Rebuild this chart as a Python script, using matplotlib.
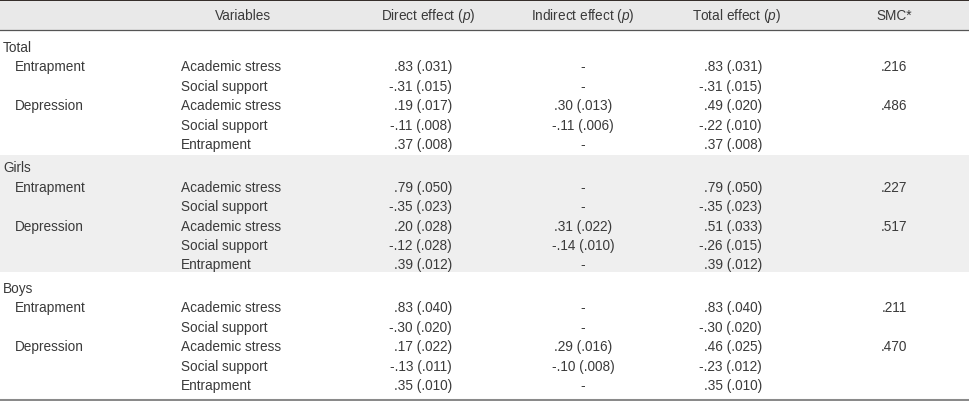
import matplotlib.pyplot as plt

plt.rcParams['font.family'] = ['Liberation Sans', 'DejaVu Sans']
plt.rcParams['mathtext.fontset'] = 'custom'
plt.rcParams['mathtext.rm'] = 'Liberation Sans'
plt.rcParams['mathtext.it'] = 'Liberation Sans:italic'

# table contents
headers = ["Variables", "Direct effect ($\\mathit{p}$)", "Indirect effect ($\\mathit{p}$)",
           "Total effect ($\\mathit{p}$)", "SMC*"]
groups = ["Total", "Girls", "Boys"]
outcomes = ["Entrapment", "Depression"]
predictors = ["Academic stress", "Social support", "Academic stress", "Social support", "Entrapment"]
outcome_of_row = [0, 0, 1, 1, 1]

direct = [
    [".83 (.031)", "-.31 (.015)", ".19 (.017)", "-.11 (.008)", ".37 (.008)"],
    [".79 (.050)", "-.35 (.023)", ".20 (.028)", "-.12 (.028)", ".39 (.012)"],
    [".83 (.040)", "-.30 (.020)", ".17 (.022)", "-.13 (.011)", ".35 (.010)"],
]
indirect = [
    ["-", "-", ".30 (.013)", "-.11 (.006)", "-"],
    ["-", "-", ".31 (.022)", "-.14 (.010)", "-"],
    ["-", "-", ".29 (.016)", "-.10 (.008)", "-"],
]
total = [
    [".83 (.031)", "-.31 (.015)", ".49 (.020)", "-.22 (.010)", ".37 (.008)"],
    [".79 (.050)", "-.35 (.023)", ".51 (.033)", "-.26 (.015)", ".39 (.012)"],
    [".83 (.040)", "-.30 (.020)", ".46 (.025)", "-.23 (.012)", ".35 (.010)"],
]
smc = [
    [".216", ".486"],
    [".227", ".517"],
    [".211", ".470"],
]

W, H = 970, 402
fig = plt.figure(figsize=(W / 100, H / 100), dpi=100)
ax = fig.add_axes([0, 0, 1, 1])
ax.set_xlim(0, W)
ax.set_ylim(H, 0)
ax.axis('off')

txt = '#3a3a3a'
fs = 9.8

# header band and rules
ax.axhspan(1, 30.5, color='#e9e9e9', lw=0)
ax.axhline(0.8, color='#231b17', lw=1.3)
ax.axhline(30.5, color='#555555', lw=0.9)
ax.axhline(400.5, color='#8a8a8a', lw=2.2)

head_x = [243, 428, 583, 737, 894]
for x, h in zip(head_x, headers):
    ax.text(x, 16, h, ha='center', va='center', fontsize=fs, color=txt)

group_y0 = 48
group_step = 120.5
row_step = 19.4

for g, name in enumerate(groups):
    y0 = group_y0 + g * group_step
    if g == 1:
        # shaded band behind the girls block
        ax.axhspan(y0 - 13, y0 + 5 * row_step + 7.5, color='#efefef', lw=0, zorder=0)
    ax.text(3, y0, name, ha='left', va='center', fontsize=fs, color=txt)
    shown = set()
    for k in range(5):
        y = y0 + (k + 1) * row_step
        o = outcome_of_row[k]
        if o not in shown:
            shown.add(o)
            ax.text(15, y, outcomes[o], ha='left', va='center', fontsize=fs, color=txt)
            ax.text(894, y, smc[g][o], ha='center', va='center', fontsize=fs, color=txt)
        ax.text(181, y, predictors[k], ha='left', va='center', fontsize=fs, color=txt)
        ax.text(452, y, direct[g][k], ha='right', va='center', fontsize=fs, color=txt)
        ax.text(583, y, indirect[g][k], ha='center', va='center', fontsize=fs, color=txt)
        ax.text(762, y, total[g][k], ha='right', va='center', fontsize=fs, color=txt)

fig.savefig('out.png', dpi=100)
